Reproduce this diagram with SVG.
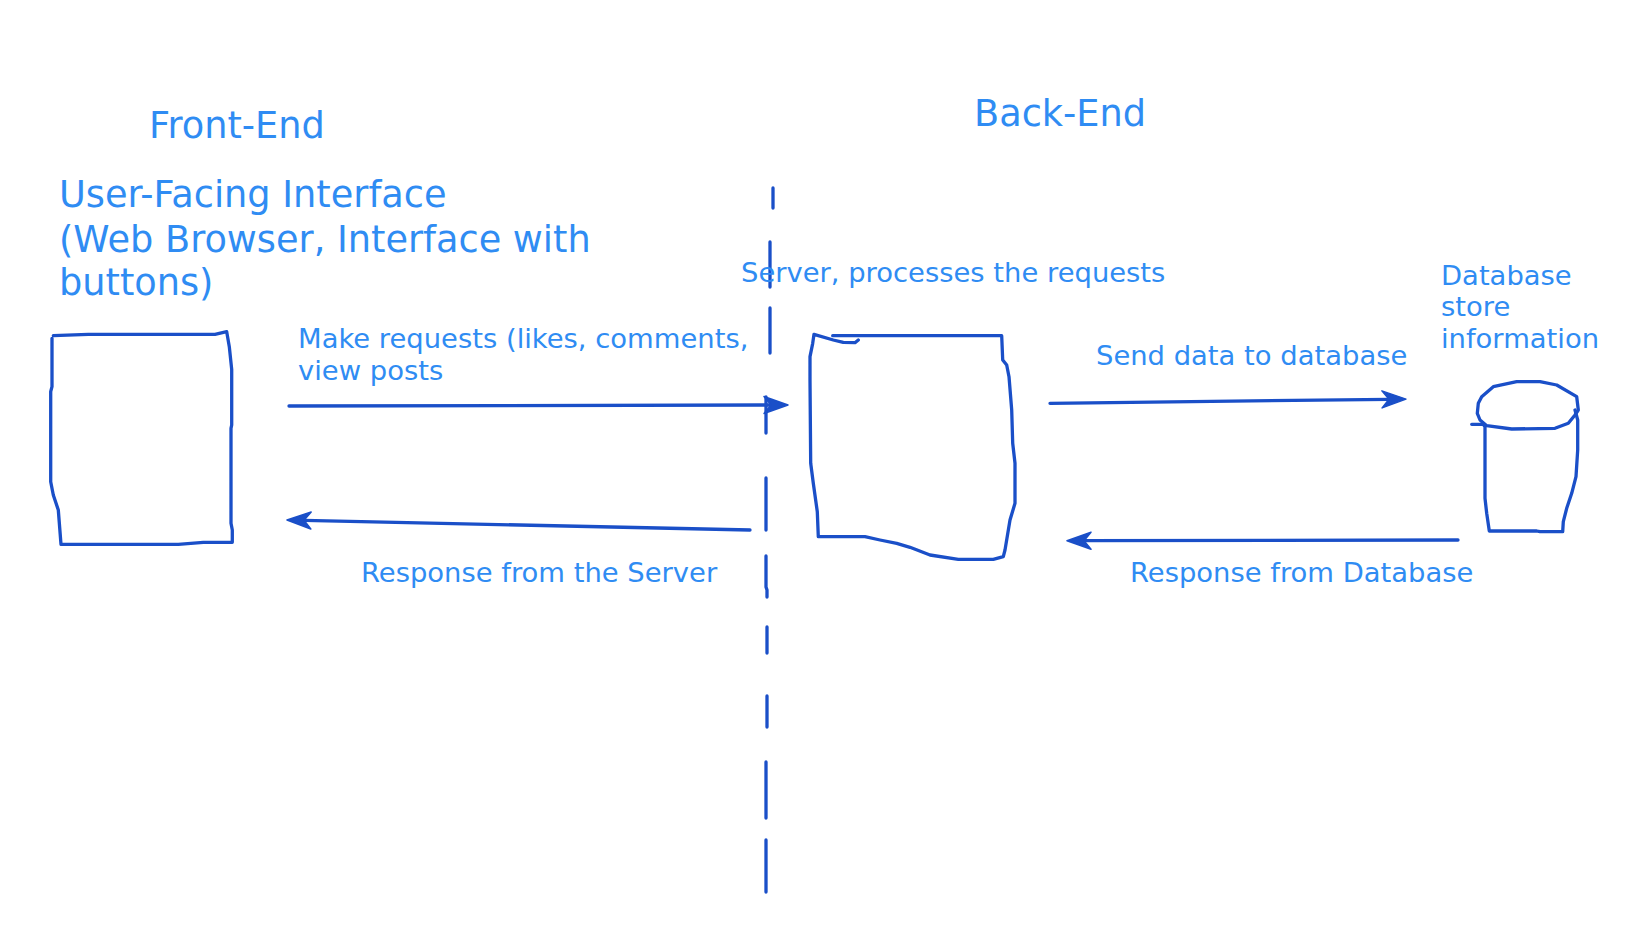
<svg xmlns="http://www.w3.org/2000/svg" width="1648" height="927" viewBox="0 0 1648 927">
<style>
  .lbl { font-family: "DejaVu Sans", Verdana, sans-serif; fill: #2f8cf3; }
  .big { font-size: 36.7px; }
  .sm { font-size: 27.4px; }
  .ink { fill: none; stroke: #1a4fc8; stroke-width: 3.3; stroke-linecap: round; stroke-linejoin: round; }
</style>
<defs>
  <marker id="ah" viewBox="-9 -11 28 22" refX="0" refY="0" markerWidth="28" markerHeight="22" markerUnits="userSpaceOnUse" orient="auto">
    <path d="M17,0 L-7,-8.5 L0,0 L-7,8.5 Z" fill="#1a4fc8" stroke="#1a4fc8" stroke-width="1.5" stroke-linejoin="round"/>
  </marker>
</defs>
<rect width="1648" height="927" fill="#ffffff"/>

<g id="titles">
  <text class="lbl big" x="149" y="138">Front-End</text>
  <text class="lbl big" x="974" y="126">Back-End</text>
</g>

<g id="divider">
  <path class="ink" d="M773,188 L773,208 M770,242 L770,287 M770,308 L770,353 M766,397 L766,433 M766,478 L766,530 M766,556 L766,587 L767,590 L767,597 M767,627 L767,653 M767,696 L767,727 M766,762 L766,818 M766,840 L766,892"/>
</g>

<g id="frontend">
  <text class="lbl big" x="59" y="207">User-Facing Interface</text>
  <text class="lbl big" x="59" y="251.5">(Web Browser, Interface with</text>
  <text class="lbl big" x="59" y="295">buttons)</text>
  <path class="ink" d="M53.3,335.7 L88.3,334.3 L215,334.3 L226.7,331.7 L229.3,346.7 L231.7,369.3 L231.7,425 L231,428.3 L231,523.3 L232.3,530 L232.3,542.3 L203.3,542.3 L178.3,544.3 L61,544.3 L58.3,510 L53.3,495 L50.7,481.7 L50.7,391.7 L52,386.7 L52,338.3"/>
</g>

<g id="server">
  <text class="lbl sm" x="741" y="282">Server, processes the requests</text>
  <path class="ink" d="M832.7,335.7 L1001.7,335.7 L1002.7,360 L1006.7,365 L1009,376.7 L1011.7,410 L1012.7,443.3 L1015,463.3 L1015,503.3 L1010,520 L1005,550 L1003.3,556.7 L993.3,559.3 L958.3,559.3 L930,555 L910,547.3 L896.7,543.3 L880,540 L865,536.7 L818.3,536.7 L817.3,511.7 L813.3,483.3 L810.7,463.3 L810,380 L810,356.7 L812.7,343.3 L814,334.3 L833.3,340 L843.3,342.3 L855,342.7 L858.3,340"/>
</g>

<g id="database">
  <text class="lbl sm" x="1441" y="285">Database</text>
  <text class="lbl sm" x="1441" y="316">store</text>
  <text class="lbl sm" x="1441" y="348">information</text>
  <path class="ink" d="M1478.3,403.3 L1481.7,396.7 L1493.3,386.7 L1516.7,381.7 L1540,381.7 L1556.7,385 L1576.7,396.7 L1578.3,410 L1575,415 L1568.3,423.3 L1555,428.3 L1511.7,429 L1486.7,425.7 L1480,420 L1477.3,413.3 Z"/>
  <path class="ink" d="M1471.7,424.3 L1483.3,424.3 L1485,426.7 L1485,498.3 L1486.7,513.3 L1489.3,531 L1536.7,531 L1540,531.7 L1562.7,531.7 L1563.3,521.7 L1566.7,508.3 L1571.7,493.3 L1576,476.7 L1577.7,450 L1577.7,420 L1575,410"/>
</g>

<g id="connectors">
  <path class="ink" d="M289,406 L771,405" marker-end="url(#ah)"/>
  <path class="ink" d="M750,530 L304,520.3" marker-end="url(#ah)"/>
  <path class="ink" d="M1050,403.3 L1389,399.3" marker-end="url(#ah)"/>
  <path class="ink" d="M1458,540 L1084,540.7" marker-end="url(#ah)"/>
</g>

<g id="connector-labels">
  <text class="lbl sm" x="298" y="348">Make requests (likes, comments,</text>
  <text class="lbl sm" x="298" y="380">view posts</text>
  <text class="lbl sm" x="361" y="582">Response from the Server</text>
  <text class="lbl sm" x="1096" y="365">Send data to database</text>
  <text class="lbl sm" x="1130" y="582">Response from Database</text>
</g>
</svg>
